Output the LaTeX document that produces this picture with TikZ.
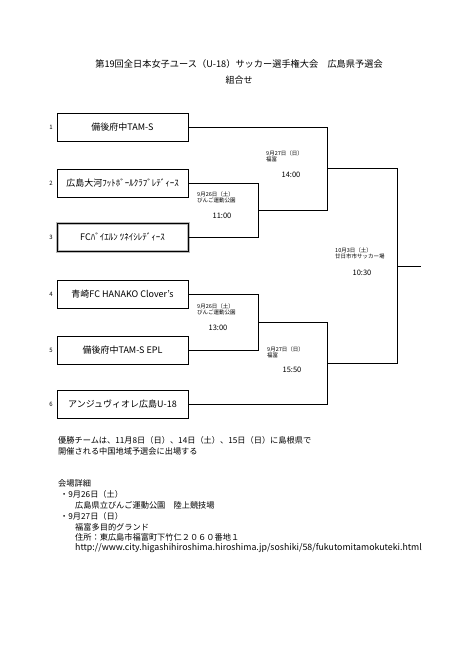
\documentclass[tikz,border=0pt]{standalone}
\usepackage{fontspec}
\setmainfont{Noto Sans CJK JP}
\usepackage{tikz}
\usetikzlibrary{calc}

\begin{document}
\begin{tikzpicture}[x=1pt,y=-1pt]

% Stili
\tikzset{squadra/.style={draw, minimum width=131pt, minimum height=28pt, inner sep=0pt, font=\fontsize{9}{9}\selectfont},
  ombra/.style={preaction={draw=gray!55, line width=3pt}},
  numero/.style={font=\fontsize{6}{6}\selectfont, inner sep=0pt},
  partita/.style={font=\fontsize{5.5}{6}\selectfont, align=left, anchor=north west, inner sep=0pt},
  orario/.style={font=\fontsize{7.5}{7.5}\selectfont, inner sep=0pt},
  testo/.style={font=\fontsize{8.2}{10.5}\selectfont, anchor=west, inner sep=0pt, align=left}}

\useasboundingbox[fill=white] (0,0) rectangle (459,650);

% --- Titolo ---
\node[font=\fontsize{9.2}{9.2}\selectfont] (titolo) at (239,64) {第19回全日本女子ユース（U-18）サッカー選手権大会　広島県予選会};
\node[font=\fontsize{9}{9}\selectfont] (sottotitolo) at (239,80) {組合せ};

% --- Squadre ---
\node[squadra] (s1) at (122.5,127) {備後府中TAM-S};
\node[squadra] (s2) at (122.5,183) {広島大河ﾌｯﾄﾎﾞｰﾙｸﾗﾌﾞﾚﾃﾞｨｰｽ};
\node[squadra, ombra] (s3) at (122.5,237) {FCﾊﾞｲｴﾙﾝ ﾂﾈｲｼﾚﾃﾞｨｰｽ};
\node[squadra] (s4) at (122.5,294.5) {青崎FC HANAKO Clover's};
\node[squadra] (s5) at (122.5,350) {備後府中TAM-S EPL};
\node[squadra] (s6) at (122.5,404) {アンジュヴィオレ広島U-18};

% Numeri
\node[numero] (n1) at (51,127) {1};
\node[numero] (n2) at (51,183) {2};
\node[numero] (n3) at (51,237) {3};
\node[numero] (n4) at (51,294.5) {4};
\node[numero] (n5) at (51,350) {5};
\node[numero] (n6) at (51,404) {6};

% --- Tabellone ---
\coordinate (pA) at (258,210);
\coordinate (pB) at (327,168.5);
\coordinate (pC) at (258,322);
\coordinate (pD) at (327,363);
\coordinate (pF) at (397,266);
\coordinate (vincitore) at (421,266);

\draw (s2.east) -| (pA);
\draw (s3.east) -| (pA);
\draw (pA) -| (pB);
\draw (s1.east) -| (pB);
\draw (s4.east) -| (pC);
\draw (s5.east) -| (pC);
\draw (pC) -| (pD);
\draw (s6.east) -| (pD);
\draw (pB) -| (pF);
\draw (pD) -| (pF);
\draw (pF) -- (vincitore);

% Date e campi
\node[partita] (dA) at (197,192) {9月26日（土）\\びんご運動公園};
\node[orario] (oA) at (222,216) {11:00};
\node[partita] (dB) at (266,151) {9月27日（日）\\福富};
\node[orario] (oB) at (291,175) {14:00};
\node[partita] (dC) at (197,304) {9月26日（土）\\びんご運動公園};
\node[orario] (oC) at (218,328) {13:00};
\node[partita] (dD) at (267,347) {9月27日（日）\\福富};
\node[orario] (oD) at (292,370) {15:50};
\node[partita] (dF) at (335,248) {10月3日（土）\\廿日市市サッカー場};
\node[orario] (oF) at (362,273) {10:30};

% --- Note ---
\node[testo] (nota) at (58,446) {優勝チームは、11月8日（日）、14日（土）、15日（日）に島根県で\\開催される中国地域予選会に出場する};

\node[testo] (c0) at (58,483) {会場詳細};
\node[testo] (c1) at (60,494) {・9月26日（土）};
\node[testo] (c2) at (75,505) {広島県立びんご運動公園　陸上競技場};
\node[testo] (c3) at (60,516) {・9月27日（日）};
\node[testo] (c4) at (75,527) {福富多目的グランド};
\node[testo] (c5) at (75,537) {住所：東広島市福富町下竹仁２０６０番地１};
\node[testo, font=\fontsize{8.8}{8.8}\selectfont] (c6) at (75,548) {http://www.city.higashihiroshima.hiroshima.jp/soshiki/58/fukutomitamokuteki.html};

\end{tikzpicture}
\end{document}
